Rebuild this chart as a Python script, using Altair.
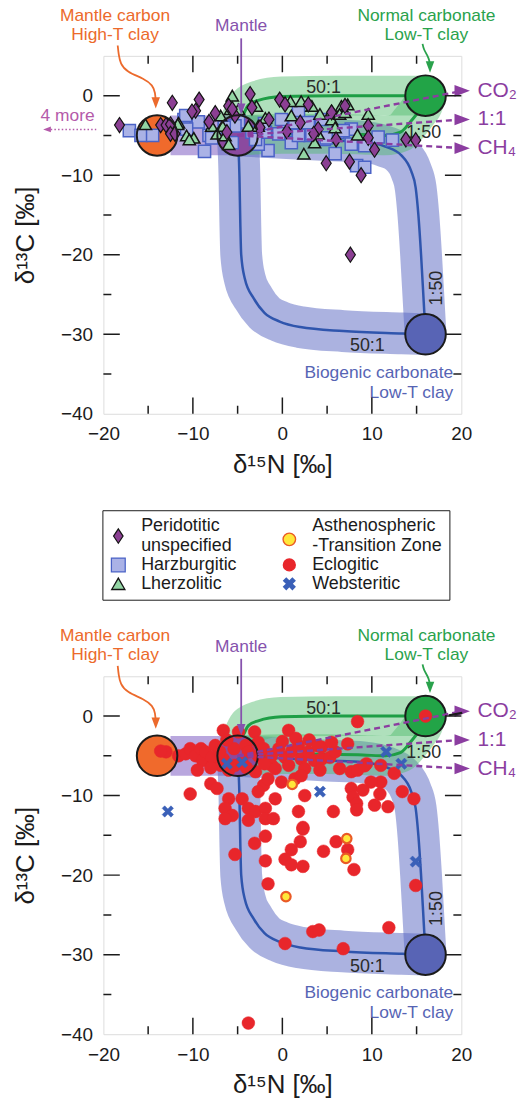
import altair as alt
import pandas as pd

FONT = "Liberation Sans"
INK = "#1b1b1b"
ORANGE = "#ec6a2c"
MANTLE_PURPLE = "#8652ad"
GREEN = "#2aa24c"
BLUE_TXT = "#5664b4"
ARROW_PURPLE = "#8b3da0"
MORE_PINK = "#b45aaa"

# ---------------------------------------------------------------- data
# end-member compositions: δ15N, δ13C
em_x = [-14, -5, 16, 16]
em_y = [-5, -5, 0, -30]
em_fill = ["#f06a2c", "#8b4a9f", "#22a447", "#5864b5"]

# mixing trajectories leaving the mantle value
carbon_x = [-12.5, -5.0]
carbon_y = [-5.0, -5.0]
bio50_x = [-5.0, -4.8, -4.7, -4.6, -4.2, -3.2, -2.0, -0.3, 2.0, 6.8, 13.4, 16.0]
bio50_y = [-5.0, -10.0, -16.0, -20.0, -23.0, -25.5, -27.3, -28.4, -29.1, -29.6, -29.9, -30.0]
bio150_x = [-5.0, 0.0, 5.0, 9.0, 11.5, 13.3, 14.4, 14.9, 15.2, 15.5, 15.8, 16.0]
bio150_y = [-5.0, -5.3, -5.6, -5.8, -6.4, -7.5, -9.5, -11.6, -15.0, -20.0, -26.0, -30.0]
norm50_x = [-5.0, -4.8, -4.3, -3.8, -2.7, -0.1, 6.0, 16.0]
norm50_y = [-5.0, -3.5, -2.25, -1.2, -0.6, -0.1, 0.0, 0.0]
norm150_x = [-5.0, 0.0, 5.0, 9.0, 11.5, 13.2, 14.3, 15.2, 15.8, 16.0]
norm150_y = [-5.0, -4.8, -4.8, -4.9, -5.0, -4.6, -3.3, -2.0, -0.9, 0.0]

# fluid-speciation arrows from the mantle value
gas_label = ["CO₂", "1:1", "CH₄"]
gas_end_y = [0.6, -3.0, -6.6]
gas_end_x = 20.1
gas_text_x = 21.8

# peridotitic diamonds (upper panel)
peri_x = [-18.2, -12.3, -9.3, -9.7, -10.1, -13.6, -13.0, -12.5, -12.5, -12.0, -7.5, -3.6,
          -3.4, -0.3, -6.0, -5.3, -6.2, -8.2, -5.6, 2.0, 0.3, 2.9, 5.5, 7.0, 9.6, 9.6,
          4.9, 7.5, 8.8, 10.3, 13.8, 14.9, 7.6, -1.5, 4.0, -2.5, 0.5, 3.5, 6.0]
peri_y = [-3.7, -0.9, -0.5, -1.9, -2.0, -3.7, -3.7, -3.6, -4.8, -4.8, -2.2, 0.2,
          -1.5, -0.5, -1.3, -2.5, -4.6, -3.3, -1.7, -3.4, -1.1, -1.1, -2.1, -1.3, -3.8, -5.3,
          -8.5, -8.3, -10.0, -6.8, -5.5, -5.6, -20.0, -3.0, -4.2, -4.0, -4.5, -4.8, -5.5]
harz_x = [-17.1, -15.8, -14.5, -11.0, -10.8, -9.4, -10.7, -8.2, -8.7, -7.9, -4.9, -5.3,
          -1.6, -2.7, -1.9, 0.3, 1.8, 3.1, 4.7, 6.2, 8.3, 9.2, 10.7, 12.3, 1.0, -0.4,
          -3.4, -5.6, -0.1, 3.6, 7.7, 4.4, 6.8, 1.8, 3.3, 4.9, 7.7, 9.2, 1.4, 2.9, 5.9,
          -6.5, -3.0, -2.0]
harz_y = [-4.4, -5.0, -5.0, -3.0, -2.5, -3.3, -4.2, -5.0, -7.0, -5.3, -3.3, -3.8,
          -6.9, -6.1, -4.6, -4.1, -2.1, -5.0, -5.5, -4.6, -8.8, -9.0, -5.2, -5.6, -5.9, -4.8,
          -4.6, -5.9, -3.0, -3.4, -4.2, -3.0, -4.4, -5.0, -4.8, -5.3, -6.1, -6.3, -3.4, -3.4, -7.3,
          -4.0, -5.5, -3.5]
lherz_x = [-15.3, -11.6, -10.7, -9.9, -7.9, -7.3, -6.7, -6.4, -5.6, -5.8, -4.9, -6.9,
           -6.0, -3.8, 0.9, 1.0, -2.9, 2.1, 3.3, 4.2, 5.5, 6.6, 7.3, 9.6, 2.4, 8.4, 3.6,
           -10.4, -11.7, -2.7, -1.9, 5.5, 6.4, 5.9, 4.0, 7.0]
lherz_y = [-3.6, -3.4, -5.0, -5.3, -3.8, -4.8, -3.8, -5.0, 0.0, -1.7, -1.7, -2.5,
           -6.1, -3.8, -0.7, -2.5, -1.3, -0.7, -1.3, -2.3, -1.9, -1.3, -1.1, -2.3, -7.3, -4.9, -5.9,
           -5.5, -3.6, -3.8, -2.8, -3.0, -2.3, -4.0, -4.8, -2.1]

# eclogitic, asthenospheric and websteritic diamonds (lower panel)
eclo_x = [-13.0, -11.6, -10.8, -10.3, -9.7, -9.1, -8.9, -8.6, -7.9, -7.5, -6.9, -6.6, -6.6,
          -6.0, -5.4, -5.3, -4.9, -4.5, -4.1, -3.8, -3.1, -2.7, -2.7, -2.1, -1.2, -0.4, 0.3,
          0.7, 1.0, 1.8, 2.1, 2.9, 3.6, 4.4, 4.4, 5.3, 5.9, 7.3, 8.4, 16.0, 4.2, 2.5, 0.7,
          -1.2, 6.4, 7.7, 8.4, 9.4, 11.0, 12.5, 11.0, 9.9, 7.7, 9.0, 7.9, 10.9, 8.3, 10.3,
          11.8, 13.4, 14.7, 5.7, 2.5, 1.8, 2.3, -10.3, -8.0, -7.3, -6.0, -6.4, -5.6, -4.5,
          -3.8, -3.0, -1.9, -2.1, -2.7, -0.8, -1.9, -1.0, -3.8, -6.4, 1.4, -0.1, 2.1, -1.6,
          -0.8, -3.0, -5.3, -3.1, -1.9, -1.9, -1.6, 1.0, 0.3, 1.0, 2.3, 2.0, 2.3, 6.0, 4.6,
          7.3, 8.0, 8.3, 14.9, 11.9, 3.4, 4.1, 0.3, 6.8, -3.8, -7.0, -6.2, -4.0, -2.0, 0.0,
          1.5, 3.0, 5.5, 4.0, 9.2, -8.0, -9.5, -13.6]
eclo_y = [-4.5, -5.0, -4.75, -4.1, -5.0, -4.1, -5.6, -4.5, -5.2, -3.7, -6.2, -5.4, -1.8,
          -6.8, -4.1, -6.2, -2.0, -5.8, -3.7, -4.5, -2.0, -5.0, -3.3, -4.1, -5.0, -4.1, -5.2,
          -1.8, -4.5, -3.7, -5.4, -4.5, -5.6, -5.4, -3.9, -5.2, -4.5, -3.5, -0.7, 0.0, -6.8, -6.6, -6.2,
          -6.2, -6.6, -7.0, -6.8, -6.0, -6.2, -7.2, -8.3, -8.3, -9.1, -9.3, -10.2, -9.8, -11.0, -11.2,
          -11.4, -9.5, -10.4, -12.0, -10.0, -12.0, -14.0, -9.8, -8.5, -9.1, -10.4, -11.6, -12.5, -10.4,
          -11.6, -12.0, -11.6, -8.7, -9.5, -10.4, -12.9, -12.9, -13.1, -12.9, -7.9, -8.3, -7.5, -7.9,
          -6.6, -7.0, -17.4, -16.0, -15.1, -18.2, -21.1, -16.8, -18.0, -18.7, -18.9, -15.8, -14.2, -15.8, -17.0,
          -16.8, -19.3, -11.8, -21.3, -26.6, -27.1, -26.9, -28.6, -29.25, -38.6, -4.5, -3.0, -6.5, -6.0, -3.2,
          -2.8, -3.0, -3.3, -3.75, -6.25, -6.5, -6.8, -4.4]
asth_x = [7.2, 7.1, 0.4, 1.1]
asth_y = [-15.4, -17.9, -22.7, -8.6]
webs_x = [-12.8, 4.2, 14.9, 11.6, 13.3, -6.2, -4.5]
webs_y = [-12.0, -9.5, -18.3, -4.5, -6.0, -6.0, -5.8]

# axis tick positions
major_ticks_x = [-10, 0, 10]
minor_ticks_x = [-15, -5, 5, 15]
major_ticks_y = [0, -10, -20, -30]
minor_ticks_y = [-5, -15, -25, -35]
frame_x = [-20, 20]
frame_y = [5, -40]

# ---------------------------------------------------------------- styling
# legend order fills column by column
TYPES = ["Peridotitic|unspecified", "Harzburgitic", "Lherzolitic",
         "Asthenospheric|-Transition Zone", "Eclogitic", "Websteritic"]
DIAMOND = "M0,-1L0.66,0L0,1L-0.66,0Z"
XMARK = ("M-1,-0.55L-0.55,-1L0,-0.45L0.55,-1L1,-0.55L0.45,0L1,0.55L0.55,1L0,0.45"
         "L-0.55,1L-1,0.55L-0.45,0Z")
# legend glyphs for two-line entries sit between the two label lines
DIAMOND_LOW = "M0,0.38L0.66,1.38L0,2.38L-0.66,1.38Z"
CIRCLE_LOW = "M1,2.11A1,1 0 1,1 -1,2.11A1,1 0 1,1 1,2.11Z"
HEAD_R = "M-1,-0.75L1,0L-1,0.75Z"
HEAD_L = "M1,-0.75L-1,0L1,0.75Z"
HEAD_D = "M-0.75,-1L0.75,-1L0,1Z"

STYLE = {
    # shape, fill, stroke, size, strokeWidth
    "Peridotitic|unspecified": (DIAMOND, "#8b3f93", "#141414", 230, 1.2),
    "Harzburgitic": ("square", "#aab2e6", "#4a62c6", 150, 1.5),
    "Lherzolitic": ("triangle-up", "#93d5a4", "#141414", 150, 1.5),
    "Asthenospheric|-Transition Zone": ("circle", "#ffe73a", "#ea5a25", 90, 2.2),
    "Eclogitic": ("circle", "#e8262b", "#e8262b", 165, 0.5),
    "Websteritic": (XMARK, "#3a60b8", "#3a60b8", 130, 0.5),
}
LEGEND_SHAPES = [DIAMOND_LOW, "square", "triangle-up", CIRCLE_LOW, "circle", XMARK]
LEGEND_SIZES = [210, 125, 130, 90, 120, 110]

XS = alt.Scale(domain=[-20, 20], nice=False, zero=False)
YS = alt.Scale(domain=[-40, 5], nice=False, zero=False)
X_AX = alt.Axis(title="δ¹⁵N [‰]", values=[-20, -10, 0, 10, 20], ticks=False, domain=False,
                grid=False, labelFlush=False, labelFontSize=19, labelPadding=11,
                titleFontSize=26, titleFontWeight="normal", titlePadding=8,
                labelColor=INK, titleColor=INK, labelFont=FONT, titleFont=FONT)
Y_AX = alt.Axis(title="δ¹³C [‰]", values=[0, -10, -20, -30, -40], ticks=False, domain=False,
                grid=False, labelFlush=False, labelFontSize=19, labelPadding=11,
                titleFontSize=26, titleFontWeight="normal", titlePadding=22,
                labelColor=INK, titleColor=INK, labelFont=FONT, titleFont=FONT)


def X():
    return alt.X("x:Q", scale=XS, axis=X_AX)


def Y():
    return alt.Y("y:Q", scale=YS, axis=Y_AX)


def path(xs, ys):
    return pd.DataFrame({"x": xs, "y": ys, "i": list(range(len(xs)))})


def line(df, color, width, opacity=1.0, dash=None, interp="monotone", cap="butt"):
    kw = dict(color=color, strokeWidth=width, opacity=opacity, strokeCap=cap,
              strokeJoin="round", interpolate=interp, clip=False)
    if dash:
        kw["strokeDash"] = dash
    return alt.Chart(df).mark_line(**kw).encode(x=X(), y=Y(), order="i:Q")


def heads(df, shape, color, size):
    return alt.Chart(df).mark_point(shape=shape, filled=True, color=color, size=size,
                                    opacity=1, strokeWidth=0).encode(x=X(), y=Y())


def texts(df, color, size, align="center", baseline="alphabetic", angle=0):
    return alt.Chart(df).mark_text(font=FONT, fontSize=size, color=color, align=align,
                                   baseline=baseline, angle=angle).encode(
        x=X(), y=Y(), text="t:N")


def words(ts, xs, ys):
    return pd.DataFrame({"t": ts, "x": xs, "y": ys})


def pts(kind, xs, ys):
    return pd.DataFrame({"x": xs, "y": ys, "type": kind})


def scatter(kind, xs, ys):
    shape, fill, stroke, size, sw = STYLE[kind]
    return alt.Chart(pts(kind, xs, ys)).mark_point(
        shape=shape, filled=True, fill=fill, stroke=stroke, size=size, strokeWidth=sw,
        opacity=1).encode(x=X(), y=Y())


LEG = alt.Legend(title=None, orient="none", legendX=-1, legendY=457, columns=2,
                 labelFont=FONT, labelFontSize=18, labelColor=INK, labelLimit=400,
                 labelOffset=14, columnPadding=42, rowPadding=0, padding=7,
                 strokeColor=INK, fillColor="white", symbolOpacity=1,
                 labelExpr="split(datum.label, '|')")


def legend_layer(df):
    # carries the lithology key only; no marks are drawn from it
    def sc(i):
        return alt.Scale(domain=TYPES, range=[STYLE[t][i] for t in TYPES])
    return alt.Chart(df).transform_filter("datum.x > 1000").mark_point(
        filled=True, opacity=1).encode(
        x=X(), y=Y(),
        shape=alt.Shape("type:N", scale=alt.Scale(domain=TYPES, range=LEGEND_SHAPES),
                        legend=LEG),
        fill=alt.Fill("type:N", scale=sc(1), legend=LEG),
        stroke=alt.Stroke("type:N", scale=sc(2), legend=LEG),
        size=alt.Size("type:N", scale=alt.Scale(domain=TYPES, range=LEGEND_SIZES),
                      legend=LEG),
        strokeWidth=alt.StrokeWidth("type:N", scale=sc(4), legend=LEG),
    )


def panel(point_layers, extra_layers):
    em = pd.DataFrame({"x": em_x, "y": em_y, "c": em_fill})
    bands = [
        line(path(carbon_x, carbon_y), "#8a6cc8", 40, 0.6),
        line(path(bio50_x, bio50_y), "#5766c2", 42, 0.5),
        line(path(bio150_x, bio150_y), "#5766c2", 42, 0.5),
        line(path(norm50_x, norm50_y), "#4dbb6a", 40, 0.45),
        line(path(norm150_x, norm150_y), "#4dbb6a", 40, 0.45),
    ]
    curves = [
        line(path(bio50_x, bio50_y), "#2f55ad", 2.5),
        line(path(bio150_x, bio150_y), "#2f55ad", 2.5),
        line(path(norm50_x, norm50_y), "#1e9e45", 3),
        line(path(norm150_x, norm150_y), "#1e9e45", 3),
    ]
    em_fill_layer = alt.Chart(em).mark_point(shape="circle", filled=True, size=1662,
                                             opacity=1, strokeWidth=0).encode(
        x=X(), y=Y(), fill=alt.Fill("c:N", scale=None))
    em_ring = alt.Chart(em).mark_point(shape="circle", filled=False, size=1662, opacity=1,
                                       color=INK, strokeWidth=2).encode(x=X(), y=Y())
    ratio_labels = texts(words(["50:1", "1:50", "50:1"], [4.6, 15.8, 9.5], [0.9, -4.7, -31.5]),
                         "#2a2a2a", 18, baseline="middle")
    ratio_vertical = texts(words(["1:50"], [17.3], [-24.2]), "#2a2a2a", 18,
                           baseline="middle", angle=270)

    # dashed speciation arrows
    gas_rows = []
    for lab, ye in zip(gas_label, gas_end_y):
        gas_rows.append({"x": -5.0, "y": -5.0, "i": 0, "g": lab})
        gas_rows.append({"x": gas_end_x, "y": ye, "i": 1, "g": lab})
    gas_df = pd.DataFrame(gas_rows)
    gas_lines = alt.Chart(gas_df).mark_line(color=ARROW_PURPLE, strokeWidth=2.4,
                                            strokeDash=[6, 4], clip=False).encode(
        x=X(), y=Y(), order="i:Q", detail="g:N")
    gas_heads = heads(pd.DataFrame({"x": [gas_end_x] * 3, "y": gas_end_y}), HEAD_R,
                      ARROW_PURPLE, 240)
    gas_text = texts(words(gas_label, [gas_text_x] * 3, gas_end_y), ARROW_PURPLE, 21,
                     align="left", baseline="middle")

    # end-member captions and pointers
    captions = [
        texts(words(["Mantle carbon", "High-T clay"], [-18.7, -18.7], [9.4, 7.0]), ORANGE, 17.5),
        texts(words(["Mantle"], [-4.6], [8.1]), MANTLE_PURPLE, 17.5),
        texts(words(["Normal carbonate", "Low-T clay"], [16.1, 16.1], [9.4, 7.0]), GREEN, 17.5),
        texts(words(["Biogenic carbonate", "Low-T clay"], [19.1, 19.1], [-35.5, -38.0]),
              BLUE_TXT, 17.5, align="right"),
        line(path([-18.4, -18.3, -18.1, -17.4, -15.4, -14.5, -14.2, -14.15],
                  [6.3, 5.2, 4.0, 3.0, 2.1, 1.3, 0.4, -0.9]), ORANGE, 1.8, interp="basis"),
        heads(path([-14.15], [-0.9]), HEAD_D, ORANGE, 130),
        line(path([-4.6, -4.6], [7.2, -1.7]), MANTLE_PURPLE, 1.8, interp="linear"),
        heads(path([-4.6], [-1.7]), HEAD_D, MANTLE_PURPLE, 130),
        line(path([15.67, 15.8, 16.2, 16.45, 16.5], [6.5, 5.8, 5.1, 4.4, 3.6]), GREEN, 1.8,
             interp="basis"),
        heads(path([16.5], [3.6]), HEAD_D, GREEN, 130),
    ]

    # inward frame ticks on all four sides
    def xticks(vals, size):
        df = pd.DataFrame([{"x": v, "y": e} for v in vals for e in frame_y])
        return alt.Chart(df).mark_tick(orient="vertical", size=size, thickness=1.5,
                                       color=INK, opacity=1, clip=True).encode(x=X(), y=Y())

    def yticks(vals, size):
        df = pd.DataFrame([{"x": e, "y": v} for v in vals for e in frame_x])
        return alt.Chart(df).mark_tick(orient="horizontal", size=size, thickness=1.5,
                                       color=INK, opacity=1, clip=True).encode(x=X(), y=Y())

    ticks = [xticks(major_ticks_x, 33), xticks(minor_ticks_x, 16),
             yticks(major_ticks_y, 33), yticks(minor_ticks_y, 16)]

    layers = (bands + curves + [em_fill_layer, ratio_labels, ratio_vertical]
              + point_layers + [em_ring, gas_lines, gas_heads, gas_text]
              + extra_layers + captions + ticks)
    return alt.layer(*layers).properties(width=360, height=360)


# upper panel: peridotitic diamonds
more_extra = [
    texts(words(["4 more"], [-24.0], [-2.6]), MORE_PINK, 17.5, baseline="middle"),
    line(path([-26.3, -20.8], [-4.25, -4.25]), MORE_PINK, 1.6, dash=[1.5, 2.2], interp="linear"),
    heads(path([-26.3], [-4.25]), HEAD_L, MORE_PINK, 60),
]
upper = panel([scatter(TYPES[1], harz_x, harz_y),
               scatter(TYPES[2], lherz_x, lherz_y),
               scatter(TYPES[0], peri_x, peri_y)], more_extra)

# lower panel: eclogitic, websteritic and asthenospheric diamonds
all_points = pd.concat([pts(TYPES[4], eclo_x, eclo_y), pts(TYPES[3], asth_x, asth_y),
                        pts(TYPES[5], webs_x, webs_y)], ignore_index=True)
co2_extra = [line(path([18.6, 20.1], [0.1, 0.4]), INK, 2.2, interp="linear"),
             legend_layer(all_points)]
lower = panel([scatter(TYPES[4], eclo_x, eclo_y),
               scatter(TYPES[3], asth_x, asth_y),
               scatter(TYPES[5], webs_x, webs_y)], co2_extra)

chart = alt.vconcat(upper, lower, spacing=264, bounds="flush").configure_view(
    stroke=INK, strokeWidth=1.5
).configure(font=FONT).properties(
    padding={"left": 12, "top": 3, "right": 0, "bottom": 0})

chart.save("out.html", embed_options={"renderer": "svg", "actions": False})
